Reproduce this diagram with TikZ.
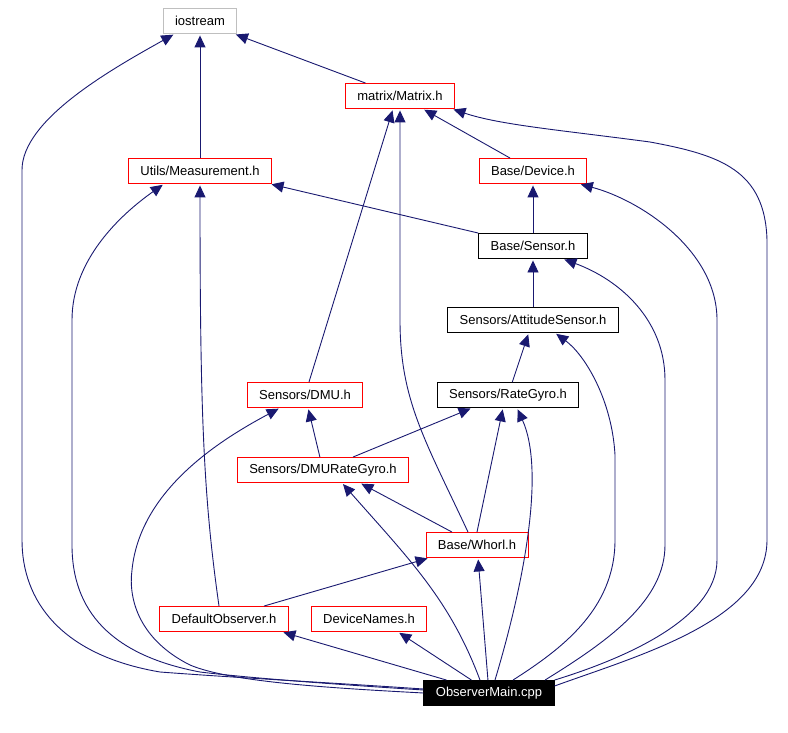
\documentclass[tikz,border=0pt]{standalone}
\usepackage{fontspec}
\setmainfont{Liberation Sans}
\usetikzlibrary{arrows.meta,positioning}
\definecolor{edgeblue}{HTML}{191970}
\definecolor{boxred}{HTML}{FF0000}
\definecolor{boxgray}{HTML}{BFBFBF}

\begin{document}
\begin{tikzpicture}[x=1pt,y=-1pt,on grid,
  file/.style={rectangle,draw=boxred,line width=0.9pt,minimum height=25pt,
    inner xsep=12pt,inner ysep=0pt,font=\fontsize{13}{15}\selectfont},
  plain/.style={file,draw=black},
  ext/.style={file,draw=boxgray},
  root/.style={file,draw=black,fill=black,text=white},
  dep/.style={draw=edgeblue,line width=0.9pt,shorten >=1.5pt,
    -{Triangle[length=12pt,width=11pt]}}]
  \useasboundingbox (0,0) rectangle (788,733);

  \node[ext] (iostream) at (200,21) {iostream};
  \node[file] (matrix) [below right=75pt and 200pt of iostream] {matrix/Matrix.h};
  \node[file] (measure) [below=150pt of iostream] {Utils/Measurement.h};
  \node[file] (device) [below right=75pt and 133pt of matrix] {Base/Device.h};
  \node[plain] (sensor) [below=75pt of device] {Base/Sensor.h};
  \node[plain] (attitude) [below=74pt of sensor] {Sensors/AttitudeSensor.h};
  \node[plain] (rategyro) [below left=75pt and 25pt of attitude] {Sensors/RateGyro.h};
  \node[file] (dmu) [left=203pt of rategyro] {Sensors/DMU.h};
  \node[file] (dmugyro) [below right=75pt and 18pt of dmu] {Sensors/DMURateGyro.h};
  \node[file] (whorl) [below right=75pt and 154pt of dmugyro] {Base/Whorl.h};
  \node[file] (defobs) [below left=74pt and 253pt of whorl] {DefaultObserver.h};
  \node[file] (devnames) [right=145pt of defobs] {DeviceNames.h};
  \node[root] (main) [below right=74pt and 120pt of devnames] {ObserverMain.cpp};

  % straight includes
  \draw[dep] (matrix) -- (iostream);
  \draw[dep] (measure) -- (iostream);
  \draw[dep] (device) -- (matrix);
  \draw[dep] (dmu) -- ([xshift=-7pt]matrix.south);
  \draw[dep] (sensor.north west) -- ([xshift=-2pt]measure.south east);
  \draw[dep] (sensor) -- (device);
  \draw[dep] (attitude) -- (sensor);
  \draw[dep] (rategyro) -- (attitude);
  \draw[dep] (dmugyro) -- (dmu);
  \draw[dep] ([xshift=30pt]dmugyro.north) -- ([xshift=-36pt]rategyro.south);
  \draw[dep] ([xshift=-25pt]whorl.north) -- ([xshift=37pt]dmugyro.south);
  \draw[dep] (whorl.north) -- ([xshift=-5pt]rategyro.south);
  \draw[dep] ([xshift=40pt]defobs.north) -- ([xshift=-48pt]whorl.south);
  \draw[dep] ([xshift=-5pt]defobs.north) .. controls (204,500) and (200,420) .. (measure);
  \draw[dep] ([xshift=-9pt]whorl.north) .. controls (425,440) and (400,400) .. (400,320)
    -- (matrix.south);

  % includes of ObserverMain.cpp
  \draw[dep] (main) -- (whorl);
  \draw[dep] ([xshift=23pt]main.north west) -- ([xshift=58pt]defobs.south);
  \draw[dep] ([xshift=48pt]main.north west) -- ([xshift=29pt]devnames.south);
  \draw[dep] ([xshift=-9pt]main.north) .. controls (450,600) and (410,560) .. ([xshift=19pt]dmugyro.south);
  \draw[dep] ([xshift=6pt]main.north) .. controls (525,580) and (545,470) .. ([xshift=9pt]rategyro.south);
  \draw[dep] ([xshift=24pt]main.north) .. controls (560,650) and (615,610) .. (615,540)
    -- (615,455) .. controls (612,400) and (585,355) .. ([xshift=22pt]attitude.south);
  \draw[dep] ([xshift=56pt]main.north) .. controls (610,640) and (665,600) .. (665,545)
    -- (665,380) .. controls (665,320) and (620,280) .. ([xshift=30pt]sensor.south);
  \draw[dep] (main.north east) .. controls (620,660) and (717,620) .. (717,560)
    -- (717,320) .. controls (717,250) and (640,200) .. ([xshift=-8pt]device.south east);
  \draw[dep] ([yshift=7pt]main.east) .. controls (640,655) and (767,620) .. (767,540)
    -- (767,240) .. controls (765,170) and (720,155) .. (650,142)
    .. controls (560,130) and (500,125) .. ([xshift=-3pt]matrix.south east);
  \draw[dep] ([yshift=4pt]main.west) .. controls (320,682) and (240,678) .. (160,672)
    .. controls (60,655) and (22,600) .. (22,540) -- (22,170)
    .. controls (22,120) and (110,70) .. ([xshift=12pt]iostream.south west);
  \draw[dep] ([yshift=3pt]main.west) .. controls (330,684) and (250,678) .. (200,672)
    .. controls (110,655) and (72,610) .. (72,545) -- (72,320)
    .. controls (72,260) and (120,215) .. ([xshift=36pt]measure.south west);
  \draw[dep] (main.west) .. controls (330,688) and (230,682) .. (190,665)
    .. controls (140,640) and (128,600) .. (132,570)
    .. controls (140,490) and (220,440) .. ([xshift=-25pt]dmu.south);
\end{tikzpicture}
\end{document}
